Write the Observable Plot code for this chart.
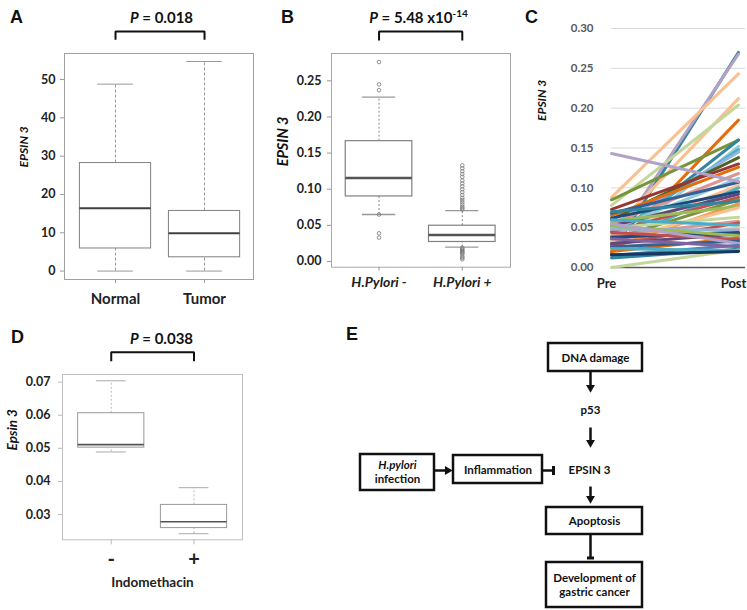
<!DOCTYPE html>
<html><head><meta charset="utf-8">
<script src="https://cdn.jsdelivr.net/npm/d3@7"></script>
<script src="https://cdn.jsdelivr.net/npm/@observablehq/plot@0.6"></script>
<style>
body{margin:0;background:#fff;}
#fig{position:relative;width:747px;height:610px;overflow:hidden;background:#fff;font-family:Lato,sans-serif;}
.panel{position:absolute;}
.lbl{position:absolute;font-family:"Liberation Sans",Arial,sans-serif;font-weight:bold;font-size:18px;line-height:1;color:#111;}
.pval{position:absolute;font-family:Lato,sans-serif;font-weight:bold;font-size:15px;line-height:1;color:#111;white-space:nowrap;transform:translateX(-50%);}
.pval sup{font-size:10px;vertical-align:6px;line-height:0;}
</style></head><body><div id="fig"></div>
<script>
// ---------- Panel A data ----------
const groupsA = ["Normal", "Tumor"];
const lowA  = [0, 0];
const q1A   = [5.9, 3.6];
const medA  = [16.4, 9.9];
const q3A   = [28.2, 15.7];
const highA = [48.8, 54.7];
const ticksA = [0, 10, 20, 30, 40, 50];
const pA = "0.018";

// ---------- Panel B data ----------
const groupsB = ["H.Pylori -", "H.Pylori +"];
const lowB  = [0.065, 0.020];
const q1B   = [0.090, 0.027];
const medB  = [0.1155, 0.0365];
const q3B   = [0.1665, 0.0495];
const highB = [0.2275, 0.0705];
const outNegB = [0.276, 0.245, 0.237, 0.065, 0.039, 0.033];
const outPosB = [0.133, 0.129, 0.125, 0.121, 0.117, 0.112, 0.108, 0.104, 0.100, 0.096, 0.092, 0.088, 0.085, 0.082, 0.079, 0.076, 0.074, 0.072,
                 0.019, 0.0175, 0.016, 0.0145, 0.013, 0.012, 0.010, 0.007, 0.005, 0.003];
const ticksB = [0, 0.05, 0.10, 0.15, 0.20, 0.25];
const pB = "5.48 x10";
const pBexp = "-14";

// ---------- Panel C data ----------
const catsC = ["Pre", "Post"];
const preC  = [0.018, 0.030, 0.088, 0.045, 0.078, 0.020, 0.085, 0.035, 0.025, 0.040, 0.050, 0.060, 0.073, 0.065, 0.055, 0.048, 0.068, 0.040, 0.030, 0.062,
               0.052, 0.045, 0.035, 0.070, 0.025, 0.058, 0.033, 0.050, 0.040, 0.028, 0.060, 0.022, 0.048, 0.038, 0.030, 0.052, 0.020, 0.044, 0.026, 0.055,
               0.015, 0.036, 0.012, 0.000, 0.024, 0.016, 0.143];
const postC = [0.270, 0.268, 0.243, 0.212, 0.204, 0.185, 0.160, 0.160, 0.152, 0.148, 0.145, 0.138, 0.130, 0.126, 0.118, 0.112, 0.107, 0.103, 0.100, 0.095,
               0.092, 0.088, 0.085, 0.083, 0.080, 0.077, 0.075, 0.063, 0.058, 0.056, 0.053, 0.050, 0.047, 0.044, 0.042, 0.040, 0.037, 0.035, 0.033, 0.030,
               0.028, 0.026, 0.023, 0.022, 0.021, 0.020, 0.108];
const colorC = ["#31859C", "#B3A2C7", "#FAC090", "#FAC090", "#C3D69B", "#E46C0A", "#77933C", "#31859C", "#93CDDD", "#4BACC6", "#8EB4E3", "#4F6228", "#953735", "#E46C0A", "#D99694", "#93CDDD", "#376092", "#FAC090", "#4BACC6", "#1F497D",
                "#604A7B", "#C0504D", "#77933C", "#31859C", "#F79646", "#9BBB59", "#FAC090", "#C3D69B", "#D99694", "#C0504D", "#4BACC6", "#FAC090", "#95B3D7", "#1F497D", "#604A7B", "#9BBB59", "#E46C0A", "#C0504D", "#376092", "#B3A2C7",
                "#4F81BD", "#8064A2", "#31859C", "#C3D69B", "#4BACC6", "#17375E", "#B3A2C7"];
const ticksC = [0, 0.05, 0.10, 0.15, 0.20, 0.25, 0.30];

// ---------- Panel D data ----------
const groupsD = ["-", "+"];
const lowD  = [0.0489, 0.0242];
const q1D   = [0.0502, 0.0259];
const medD  = [0.0511, 0.0278];
const q3D   = [0.0606, 0.0329];
const highD = [0.0704, 0.0381];
const ticksD = [0.03, 0.04, 0.05, 0.06, 0.07];
const pD = "0.038";

// ---------- Panel E diagram ----------
const boxesE = [
  {x1: 248, x2: 342, y1: 13, y2: 41},
  {x1: 60, x2: 134, y1: 124, y2: 160},
  {x1: 153, x2: 242, y1: 125, y2: 153},
  {x1: 246, x2: 342, y1: 177, y2: 204},
  {x1: 246, x2: 342, y1: 232, y2: 277}
];
const textsE = [
  {t: "DNA damage", x: 295, y: 27.5},
  {t: "p53", x: 290, y: 80},
  {t: "EPSIN 3", x: 289, y: 139.5},
  {t: "Inflammation", x: 197.5, y: 139.5},
  {t: "infection", x: 97, y: 149},
  {t: "Apoptosis", x: 294, y: 191},
  {t: "Development of", x: 294, y: 248},
  {t: "gastric cancer", x: 294, y: 262}
];
const italicE = [{t: "H.pylori", x: 97, y: 134.5}];
const arrowsE = [
  {x1: 290, y1: 41, x2: 290, y2: 62},
  {x1: 290, y1: 97, x2: 290, y2: 117},
  {x1: 290, y1: 156, x2: 290, y2: 173},
  {x1: 134, y1: 140, x2: 152, y2: 140}
];
const inhibE = [
  {x1: 242, y1: 140, x2: 253, y2: 140, half: 4.5},
  {x1: 290, y1: 204, x2: 290, y2: 227.5, half: 3.5}
];

// ---------- helpers ----------
const fig = document.getElementById("fig");
function place(node, left, top) {
  const d = document.createElement("div");
  d.className = "panel";
  d.style.left = left + "px"; d.style.top = top + "px";
  d.appendChild(node);
  fig.appendChild(d);
}
function addHTML(cls, html, left, top) {
  const d = document.createElement("div");
  d.className = cls; d.innerHTML = html;
  d.style.left = left + "px"; d.style.top = top + "px";
  fig.appendChild(d);
}
function boxRows(groups, lo, q1, med, q3, hi) {
  return groups.map((g, i) => ({pos: i + 1, g, lo: lo[i], q1: q1[i], med: med[i], q3: q3[i], hi: hi[i]}));
}
function boxMarks(rows, st) {
  const hw = 0.4, cw = st.cw;
  return [
    Plot.ruleX(rows, {x: "pos", y1: "q3", y2: "hi", stroke: st.whisker, strokeDasharray: st.dash, strokeWidth: 1}),
    Plot.ruleX(rows, {x: "pos", y1: "lo", y2: "q1", stroke: st.whisker, strokeDasharray: st.dash, strokeWidth: 1}),
    Plot.ruleY(rows, {y: "hi", x1: d => d.pos - cw, x2: d => d.pos + cw, stroke: st.cap, strokeWidth: st.capW}),
    Plot.ruleY(rows, {y: "lo", x1: d => d.pos - cw, x2: d => d.pos + cw, stroke: st.cap, strokeWidth: st.capW}),
    Plot.rect(rows, {x1: d => d.pos - hw, x2: d => d.pos + hw, y1: "q1", y2: "q3", fill: "white", stroke: st.box, strokeWidth: st.boxW}),
    Plot.ruleY(rows, {y: "med", x1: d => d.pos - hw, x2: d => d.pos + hw, stroke: st.med, strokeWidth: st.medW})
  ];
}
function bracketMark(dom, innerH, pxTop, pxLeg) {
  const u = (dom[1] - dom[0]) / innerH;
  const yt = dom[1] + pxTop * u, yl = dom[1] + pxLeg * u;
  return Plot.line([{x: 1, y: yl}, {x: 1, y: yt}, {x: 2, y: yt}, {x: 2, y: yl}],
    {x: "x", y: "y", stroke: "#111", strokeWidth: 2, strokeLinejoin: "miter", strokeLinecap: "butt"});
}
const baseStyle = {fontFamily: "Lato, sans-serif", fontWeight: "bold", fontSize: "12px", color: "#222", background: "transparent", overflow: "visible"};

// ---------- Panel A ----------
{
  const rows = boxRows(groupsA, lowA, q1A, medA, q3A, highA);
  const dom = [-2.2, 56.8];
  const p = Plot.plot({
    width: 260, height: 310, marginLeft: 64, marginTop: 53, marginRight: 7, marginBottom: 31,
    style: baseStyle,
    x: {type: "linear", domain: [0.427, 2.55]},
    y: {domain: dom},
    marks: [
      Plot.frame({stroke: "#a0a0a0"}),
      ...boxMarks(rows, {whisker: "#999", dash: "3,2", cap: "#999", capW: 1, box: "#808080", boxW: 1, med: "#404040", medW: 2, cw: 0.2}),
      Plot.axisY({ticks: ticksA, tickSize: 4, tickPadding: 5, stroke: "#999", fill: "#222", label: null, fontSize: 12.5}),
      Plot.axisX({ticks: [1, 2], tickFormat: d => groupsA[d - 1], tickSize: 4, tickPadding: 10, stroke: "#999", fill: "#222", label: null, fontSize: 15}),
      bracketMark(dom, 226, 22, 13.7),
      Plot.text(["EPSIN 3"], {frameAnchor: "left", rotate: -90, dx: -40, dy: 1, fontStyle: "italic", fontSize: 12, fill: "#111"})
    ]
  });
  place(p, 0, 0);
}

// ---------- Panel B ----------
{
  const rows = boxRows(groupsB, lowB, q1B, medB, q3B, highB);
  const outs = [...outNegB.map(v => ({pos: 1, v})), ...outPosB.map(v => ({pos: 2, v}))];
  const dom = [-0.0079, 0.2878];
  const p = Plot.plot({
    width: 265, height: 300, marginLeft: 81, marginTop: 53, marginRight: 5, marginBottom: 33.3,
    style: baseStyle,
    x: {type: "linear", domain: [0.429, 2.579]},
    y: {domain: dom},
    marks: [
      Plot.frame({stroke: "#a8a8a8"}),
      ...boxMarks(rows, {whisker: "#888", dash: "2,2", cap: "#999", capW: 1.3, box: "#808080", boxW: 1.2, med: "#555", medW: 2.5, cw: 0.2}),
      Plot.dot(outs, {x: "pos", y: "v", r: 1.8, stroke: "#777", strokeWidth: 0.8, fill: "none"}),
      Plot.axisY({ticks: ticksB, tickFormat: d3.format(".2f"), tickSize: 4, tickPadding: 6, stroke: "#999", fill: "#222", label: null, fontSize: 12.5}),
      Plot.axisX({ticks: [1, 2], tickFormat: d => groupsB[d - 1], tickSize: 4, tickPadding: 6, stroke: "#999", fill: "#222", label: null, fontSize: 14, fontStyle: "italic"}),
      bracketMark(dom, 213.7, 22, 13),
      Plot.text(["EPSIN 3"], {frameAnchor: "left", rotate: -90, dx: -48, dy: 6, fontStyle: "italic", fontSize: 14.5, fill: "#111"})
    ]
  });
  place(p, 250, 0);
}

// ---------- Panel C ----------
{
  const rows = preC.map((v, i) => ({pre: v, post: postC[i], color: colorC[i]}));
  const p = Plot.plot({
    width: 237, height: 310, marginLeft: 101, marginTop: 28, marginRight: 2, marginBottom: 43,
    style: baseStyle,
    x: {type: "linear", domain: [0, 1.055]},
    y: {domain: [0, 0.30]},
    color: {type: "identity"},
    marks: [
      Plot.gridY({ticks: ticksC.filter(t => t > 0), stroke: "#d9d9d9", strokeOpacity: 1}),
      Plot.ruleY([0], {stroke: "#595959", strokeWidth: 1.5}),
      Plot.link(rows, {x1: () => 0, x2: () => 1, y1: "pre", y2: "post", stroke: "color", strokeWidth: 3, strokeLinecap: "round"}),
      Plot.axisY({ticks: ticksC, tickFormat: d3.format(".2f"), tickSize: 0, tickPadding: 18, fill: "#595959", label: null, fontSize: 11.5}),
      Plot.axisX({ticks: [0, 1], tickFormat: d => catsC[d], tickSize: 0, tickPadding: 11, dx: -5, fill: "#222", label: null, fontSize: 13}),
      Plot.text(["EPSIN 3"], {frameAnchor: "left", rotate: -90, dx: -69, dy: -27, fontStyle: "italic", fontSize: 12, fill: "#111"})
    ]
  });
  place(p, 510, 0);
}

// ---------- Panel D ----------
{
  const rows = boxRows(groupsD, lowD, q1D, medD, q3D, highD);
  const dom = [0.02236, 0.0723];
  const p = Plot.plot({
    width: 300, height: 310, marginLeft: 62, marginTop: 74, marginRight: 58, marginBottom: 70.7,
    style: baseStyle,
    x: {type: "linear", domain: [0.411, 2.586]},
    y: {domain: dom},
    marks: [
      Plot.frame({stroke: "#c0c0c0"}),
      ...boxMarks(rows, {whisker: "#bbb", dash: "2,2", cap: "#aaa", capW: 1, box: "#999", boxW: 1, med: "#555", medW: 1.6, cw: 0.18}),
      Plot.axisY({ticks: ticksD, tickFormat: d3.format(".2f"), tickSize: 4, tickPadding: 8, stroke: "#bbb", fill: "#222", label: null, fontSize: 12.5}),
      Plot.axisX({ticks: [1, 2], tickFormat: d => groupsD[d - 1], tickSize: 5, tickPadding: 7, stroke: "#bbb", fill: "#222", label: null, fontSize: 20}),
      bracketMark(dom, 165.3, 22.3, 13.3),
      Plot.text(["Indomethacin"], {frameAnchor: "bottom", dy: 47.5, fontSize: 13.5, fill: "#222"}),
      Plot.text(["Epsin 3"], {frameAnchor: "left", rotate: -90, dx: -49.5, dy: -6.7, fontStyle: "italic", fontSize: 13.5, fill: "#111"})
    ]
  });
  place(p, 0, 300);
}

// ---------- Panel E ----------
{
  const heads = arrowsE.map(a => {
    const dx = a.x2 - a.x1, dy = a.y2 - a.y1, L = Math.hypot(dx, dy);
    const ux = dx / L, uy = dy / L;
    return {x: a.x2 - 5 * ux, y: a.y2 - 5 * uy, rot: Math.atan2(dx, -dy) * 180 / Math.PI};
  });
  const shafts = arrowsE.map(a => {
    const dx = a.x2 - a.x1, dy = a.y2 - a.y1, L = Math.hypot(dx, dy);
    return {x1: a.x1, y1: a.y1, x2: a.x2 - 5 * dx / L, y2: a.y2 - 5 * dy / L};
  });
  const bars = inhibE.map(a => {
    const dx = a.x2 - a.x1, dy = a.y2 - a.y1, L = Math.hypot(dx, dy);
    const px = -dy / L, py = dx / L;
    return {x1: a.x2 - px * a.half, y1: a.y2 - py * a.half, x2: a.x2 + px * a.half, y2: a.y2 + py * a.half};
  });
  const p = Plot.plot({
    width: 447, height: 280, margin: 0,
    style: {...baseStyle, color: "#111"},
    x: {type: "linear", domain: [0, 447], range: [0, 447], axis: null},
    y: {type: "linear", domain: [0, 280], range: [0, 280], axis: null},
    marks: [
      Plot.rect(boxesE, {x1: "x1", x2: "x2", y1: "y1", y2: "y2", fill: "white", stroke: "#111", strokeWidth: 2.5}),
      Plot.link(shafts, {x1: "x1", y1: "y1", x2: "x2", y2: "y2", stroke: "#111", strokeWidth: 2.5}),
      Plot.dot(heads, {x: "x", y: "y", symbol: "triangle", r: 3.3, fill: "#111", stroke: "none", rotate: "rot"}),
      Plot.link(inhibE, {x1: "x1", y1: "y1", x2: "x2", y2: "y2", stroke: "#111", strokeWidth: 2.5}),
      Plot.link(bars, {x1: "x1", y1: "y1", x2: "x2", y2: "y2", stroke: "#111", strokeWidth: 3}),
      Plot.text(textsE, {x: "x", y: "y", text: "t", fontSize: 11.5, fill: "#111"}),
      Plot.text(italicE, {x: "x", y: "y", text: "t", fontSize: 11.5, fontStyle: "italic", fill: "#111"})
    ]
  });
  place(p, 300, 330);
}

// ---------- Panel letters and P values ----------
addHTML("lbl", "A", 10, 8);
addHTML("lbl", "B", 281, 8);
addHTML("lbl", "C", 525, 8);
addHTML("lbl", "D", 11, 328);
addHTML("lbl", "E", 346, 325);
addHTML("pval", "<i>P</i> = " + pA, 161.5, 10);
addHTML("pval", "<i>P</i> = " + pB + "<sup>" + pBexp + "</sup>", 418.5, 10);
addHTML("pval", "<i>P</i> = " + pD, 161.5, 331);
</script></body></html>
